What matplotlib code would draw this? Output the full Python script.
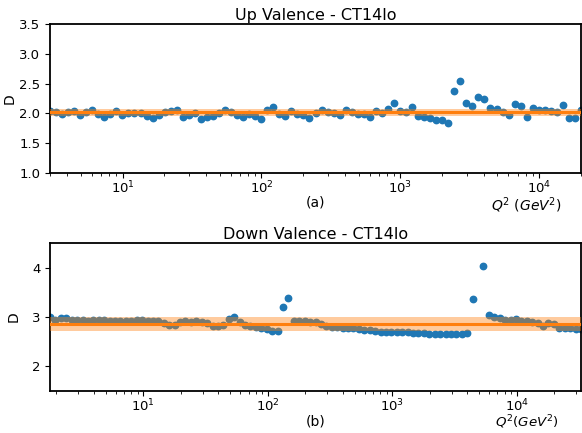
import numpy as np
import matplotlib
matplotlib.use("Agg")
import matplotlib.pyplot as plt

# ---------------- data ----------------
up_q2_min, up_q2_max = 3.0, 2.0e4
up_D = [
    2.04, 2.02, 1.99, 2.02, 2.04, 1.98, 2.02, 2.06, 1.99, 1.94,
    1.99, 2.04, 1.98, 2.00, 2.00, 2.01, 1.96, 1.92, 1.98, 2.02,
    2.04, 2.06, 1.94, 1.98, 2.01, 1.91, 1.94, 1.96, 2.01, 2.06,
    2.02, 1.97, 1.94, 1.99, 1.95, 1.91, 2.06, 2.11, 1.99, 1.96,
    2.04, 1.99, 1.97, 1.93, 2.00, 2.06, 2.03, 2.01, 1.98, 2.06,
    2.02, 1.99, 1.99, 1.94, 2.04, 2.00, 2.07, 2.18, 2.04, 2.02,
    2.11, 1.96, 1.94, 1.92, 1.89, 1.89, 1.84, 2.38, 2.54, 2.18,
    2.12, 2.27, 2.25, 2.09, 2.07, 2.03, 1.98, 2.15, 2.13, 1.94,
    2.09, 2.05, 2.06, 2.04, 2.02, 2.14, 1.93, 1.93, 2.06,
]
up_mean = 2.02
up_err = 0.062

down_q2_min, down_q2_max = 1.78, 3.28e4
down_D = [
    3.00, 2.94, 2.98, 2.98, 2.94, 2.93, 2.93, 2.92, 2.93, 2.94,
    2.93, 2.92, 2.91, 2.92, 2.91, 2.91, 2.93, 2.94, 2.92, 2.91,
    2.91, 2.88, 2.84, 2.84, 2.89, 2.91, 2.90, 2.91, 2.89, 2.87,
    2.82, 2.82, 2.83, 2.95, 3.00, 2.89, 2.84, 2.81, 2.79, 2.77,
    2.76, 2.72, 2.71, 3.21, 3.39, 2.91, 2.91, 2.91,
    2.90, 2.89, 2.85, 2.82, 2.80, 2.79, 2.78, 2.77, 2.77, 2.75,
    2.74, 2.73, 2.71, 2.70, 2.70, 2.69, 2.69, 2.69, 2.69, 2.68,
    2.67, 2.67, 2.66, 2.66, 2.66, 2.65, 2.65, 2.66, 2.65, 2.67,
    3.36, np.nan, 4.03, 3.04, 3.01, 2.97, 2.94, 2.94, 2.95, 2.91,
    2.91, 2.90, 2.87, 2.82, 2.87, 2.85, 2.78, 2.78, 2.78, 2.76,
    2.76,
]
down_mean = 2.857
down_err = 0.135

up_title = "Up Valence - CT14lo"
down_title = "Down Valence - CT14lo"
up_yticks = [1.0, 1.5, 2.0, 2.5, 3.0, 3.5]
down_yticks = [2, 3, 4]

# ---------------- figure ----------------
W, H = 582, 433
fig = plt.figure(figsize=(W / 100, H / 100), dpi=100)

def fx(px):
    return px / W

def fy(px):
    return 1 - px / H

ax1 = fig.add_axes([fx(50), fy(173), fx(531), 149 / H])
ax2 = fig.add_axes([fx(50), fy(391), fx(531), 148 / H])

up_q2 = np.logspace(np.log10(up_q2_min), np.log10(up_q2_max), len(up_D))
down_q2 = np.logspace(np.log10(down_q2_min), np.log10(down_q2_max), len(down_D))

blue = "#1f77b4"
orange = "#ff7f0e"

def draw(ax, q2, D, mean, err, title, yticks, ylim, sub, qlabel, ysub, yq, ypad, qfs):
    ax.plot(q2, D, "o", color=blue, ms=4.6, zorder=2)
    ax.axhspan(mean - err, mean + err, color=orange, alpha=0.4, lw=0, zorder=3)
    ax.axhline(mean, color=orange, lw=2.2, zorder=4)
    ax.set_xscale("log")
    ax.set_xlim(q2[0], q2[-1])
    ax.set_ylim(*ylim)
    ax.set_yticks(yticks)
    ax.set_title(title, fontsize=11.5, pad=3)
    ax.set_ylabel("D", fontsize=10, labelpad=ypad)
    ax.tick_params(labelsize=9.5)
    ax.tick_params(axis="x", which="major", pad=1.0)
    ax.text(0.5, ysub, sub, transform=ax.transAxes, ha="center",
            va="center", fontsize=10)
    ax.text(0.898, yq, qlabel, transform=ax.transAxes, ha="center",
            va="top", fontsize=qfs)
    for s in ax.spines.values():
        s.set_linewidth(1.3)

draw(ax1, up_q2, up_D, up_mean, up_err, up_title, up_yticks, (1.0, 3.5),
     "(a)", r"$Q^2$ $(GeV^2)$", -0.195, -0.15, 2, 10)
ax1.yaxis.set_major_formatter(matplotlib.ticker.FormatStrFormatter("%.1f"))
draw(ax2, down_q2, down_D, down_mean, down_err, down_title, down_yticks,
     (1.5, 4.5), "(b)", r"$Q^2(GeV^2)$", -0.205, -0.152, 8, 9.6)

fig.savefig("out.png", dpi=100)
